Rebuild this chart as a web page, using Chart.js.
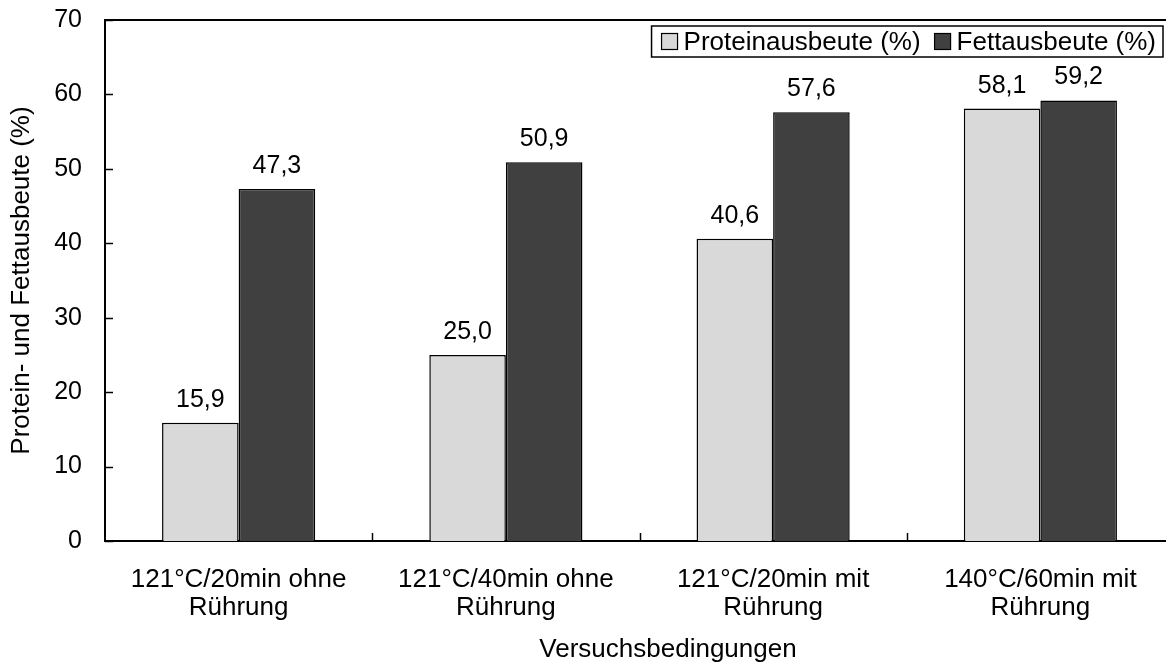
<!DOCTYPE html>
<html>
<head>
<meta charset="utf-8">
<script src="https://cdn.jsdelivr.net/npm/chart.js@4/dist/chart.umd.min.js"></script>
<style>
  html, body { margin: 0; padding: 0; background: #fff; overflow: hidden; }
  #wrap { width: 1180px; height: 663px; }
</style>
</head>
<body>
<div id="wrap"><canvas id="c" width="1180" height="663"></canvas></div>
<script>
// Versuchsbedingungen und Ausbeuten
const categories = [
  ['121°C/20min ohne', 'Rührung'],
  ['121°C/40min ohne', 'Rührung'],
  ['121°C/20min mit', 'Rührung'],
  ['140°C/60min mit', 'Rührung']
];
const proteinYield = [15.9, 25.0, 40.6, 58.1];
const fatYield = [47.3, 50.9, 57.6, 59.2];
const yTicks = [0, 10, 20, 30, 40, 50, 60, 70];
const xTitle = 'Versuchsbedingungen';

const FONT = "'Liberation Sans', Arial, sans-serif";
const fmt = v => v.toFixed(1).replace('.', ',');

// Rahmen, Teilstriche nach innen, Wertbeschriftungen, Achsentitel und Legende
const decorations = {
  id: 'decorations',
  afterDatasetsDraw(chart) {
    const ctx = chart.ctx;
    const area = chart.chartArea;
    const x = chart.scales.x, y = chart.scales.y;
    ctx.save();
    ctx.strokeStyle = '#000';
    ctx.lineWidth = 2;
    // obere Rahmenlinie
    ctx.beginPath();
    ctx.moveTo(area.left, area.top);
    ctx.lineTo(area.right, area.top);
    ctx.stroke();
    // y-Teilstriche
    ctx.lineWidth = 1.5;
    yTicks.forEach(v => {
      const py = Math.round(y.getPixelForValue(v)) + 0.5;
      ctx.beginPath();
      ctx.moveTo(area.left, py);
      ctx.lineTo(area.left + 8, py);
      ctx.stroke();
    });
    // x-Teilstriche an den Kategoriegrenzen
    for (let i = 0; i < categories.length - 1; i++) {
      const px = Math.round((x.getPixelForTick(i) + x.getPixelForTick(i + 1)) / 2) + 0.5;
      ctx.beginPath();
      ctx.moveTo(px, area.bottom);
      ctx.lineTo(px, area.bottom - 8);
      ctx.stroke();
    }
    // Wertbeschriftungen
    ctx.fillStyle = '#000';
    ctx.font = '25px ' + FONT;
    ctx.textAlign = 'center';
    ctx.textBaseline = 'alphabetic';
    chart.data.datasets.forEach((ds, di) => {
      const meta = chart.getDatasetMeta(di);
      meta.data.forEach((bar, i) => {
        ctx.fillText(fmt(ds.data[i]), bar.x, bar.y - 16);
      });
    });
    // x-Achsentitel
    ctx.font = '26px ' + FONT;
    ctx.textBaseline = 'middle';
    ctx.fillText(xTitle, 668, 650);
    // Legende
    const boxRight = 1163, boxTop = 26, boxH = 31;
    const sq = 16, gapSq = 6, gapItem = 14, padL = 10, padR = 7;
    const items = chart.data.datasets.map(ds => ({
      text: ds.label, color: ds.backgroundColor, w: ctx.measureText(ds.label).width
    }));
    let total = padL + padR;
    items.forEach((it, k) => { total += sq + gapSq + it.w + (k < items.length - 1 ? gapItem : 0); });
    const boxLeft = boxRight - total;
    ctx.fillStyle = '#fff';
    ctx.fillRect(boxLeft, boxTop, total, boxH);
    ctx.lineWidth = 1.5;
    ctx.strokeStyle = '#000';
    ctx.strokeRect(boxLeft, boxTop, total, boxH);
    const cy = boxTop + boxH / 2;
    let cx = boxLeft + padL;
    ctx.textAlign = 'left';
    ctx.textBaseline = 'middle';
    items.forEach(it => {
      ctx.fillStyle = it.color;
      ctx.fillRect(cx, cy - sq / 2, sq, sq);
      ctx.lineWidth = 1.2;
      ctx.strokeRect(cx, cy - sq / 2, sq, sq);
      cx += sq + gapSq;
      ctx.fillStyle = '#000';
      ctx.fillText(it.text, cx, cy + 1);
      cx += it.w + gapItem;
    });
    ctx.restore();
  }
};

new Chart(document.getElementById('c'), {
  type: 'bar',
  data: {
    labels: categories,
    datasets: [
      {
        label: 'Proteinausbeute (%)',
        data: proteinYield,
        backgroundColor: '#d9d9d9',
        borderColor: '#000',
        borderWidth: 1.5,
        categoryPercentage: 0.573,
        barPercentage: 1.0
      },
      {
        label: 'Fettausbeute (%)',
        data: fatYield,
        backgroundColor: '#404040',
        borderColor: '#000',
        borderWidth: 1.5,
        categoryPercentage: 0.573,
        barPercentage: 1.0
      }
    ]
  },
  options: {
    responsive: false,
    animation: false,
    devicePixelRatio: 1,
    layout: { padding: { top: 19, right: 6, left: 0, bottom: 0 } },
    plugins: { legend: { display: false }, tooltip: { enabled: false } },
    scales: {
      x: {
        grid: { display: false },
        border: { display: true, color: '#000', width: 2 },
        ticks: {
          color: '#000',
          font: { family: FONT, size: 26, lineHeight: 1.06 },
          padding: 17,
          maxRotation: 0,
          autoSkip: false
        },
        afterFit(scale) { scale.height = 122; }
      },
      y: {
        min: 0,
        max: 70,
        grid: { display: false },
        border: { display: true, color: '#000', width: 2 },
        ticks: {
          stepSize: 10,
          color: '#000',
          font: { family: FONT, size: 25, lineHeight: 0.4 },
          padding: 15
        },
        title: {
          display: true,
          text: 'Protein- und Fettausbeute (%)',
          color: '#000',
          font: { family: FONT, size: 26, lineHeight: 1.2 },
          padding: { top: 6, bottom: 0 }
        },
        afterFit(scale) { scale.width = 105; }
      }
    }
  },
  plugins: [decorations]
});
</script>
</body>
</html>
